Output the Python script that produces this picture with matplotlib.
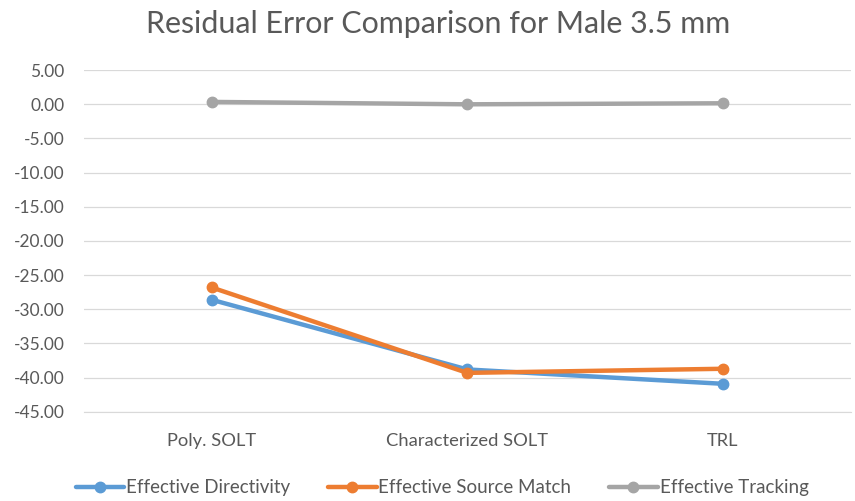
import matplotlib
matplotlib.use("Agg")
import matplotlib.pyplot as plt
from matplotlib.ticker import FixedLocator

categories = ["Poly. SOLT", "Characterized SOLT", "TRL"]
directivity = [-28.6, -38.8, -40.9]
source_match = [-26.8, -39.3, -38.7]
tracking = [0.35, 0.0, 0.15]
yticks = [5, 0, -5, -10, -15, -20, -25, -30, -35, -40, -45]

plt.rcParams['font.family'] = ['Lato', 'DejaVu Sans']
fig = plt.figure(figsize=(8.55, 5.01), dpi=100)
ax = fig.add_axes([0.098, 0.178, 0.897, 0.682])

x = list(range(len(categories)))
ax.plot(x, directivity, color='#5B9BD5', lw=3.2, marker='o', ms=7.5, label='Effective Directivity', solid_capstyle='round')
ax.plot(x, source_match, color='#ED7D31', lw=3.2, marker='o', ms=7.5, label='Effective Source Match', solid_capstyle='round')
ax.plot(x, tracking, color='#A5A5A5', lw=3.2, marker='o', ms=7.5, label='Effective Tracking', solid_capstyle='round')

ax.set_xlim(-0.5, 2.5)
ax.set_ylim(-45, 5)
ax.yaxis.set_major_locator(FixedLocator(yticks))
ax.set_yticklabels([f"{v:.2f}" for v in yticks])
ax.set_xticks(x)
ax.set_xticklabels(categories)
ax.grid(axis='y', color='#D9D9D9', lw=0.9)
ax.set_axisbelow(True)
for s in ['top', 'right', 'left']:
    ax.spines[s].set_visible(False)
ax.spines['bottom'].set_color('#D9D9D9')
ax.tick_params(axis='both', length=0, colors='#595959', labelsize=12.5)
ax.tick_params(axis='x', labelsize=13.2, pad=15)
ax.tick_params(axis='y', pad=14)
for lab in ax.get_yticklabels():
    lab.set_horizontalalignment('right')

fig.text(0.513, 0.953, "Residual Error Comparison for Male 3.5 mm", ha='center', va='center',
         fontsize=21.9, color='#595959')

leg = fig.legend(loc='center', bbox_to_anchor=(0.517, 0.026), ncol=3, frameon=False,
                 fontsize=13.5, handlelength=2.6, columnspacing=2.0, handletextpad=0.1)
for t in leg.get_texts():
    t.set_color('#595959')

fig.savefig("out.png", dpi=100)
